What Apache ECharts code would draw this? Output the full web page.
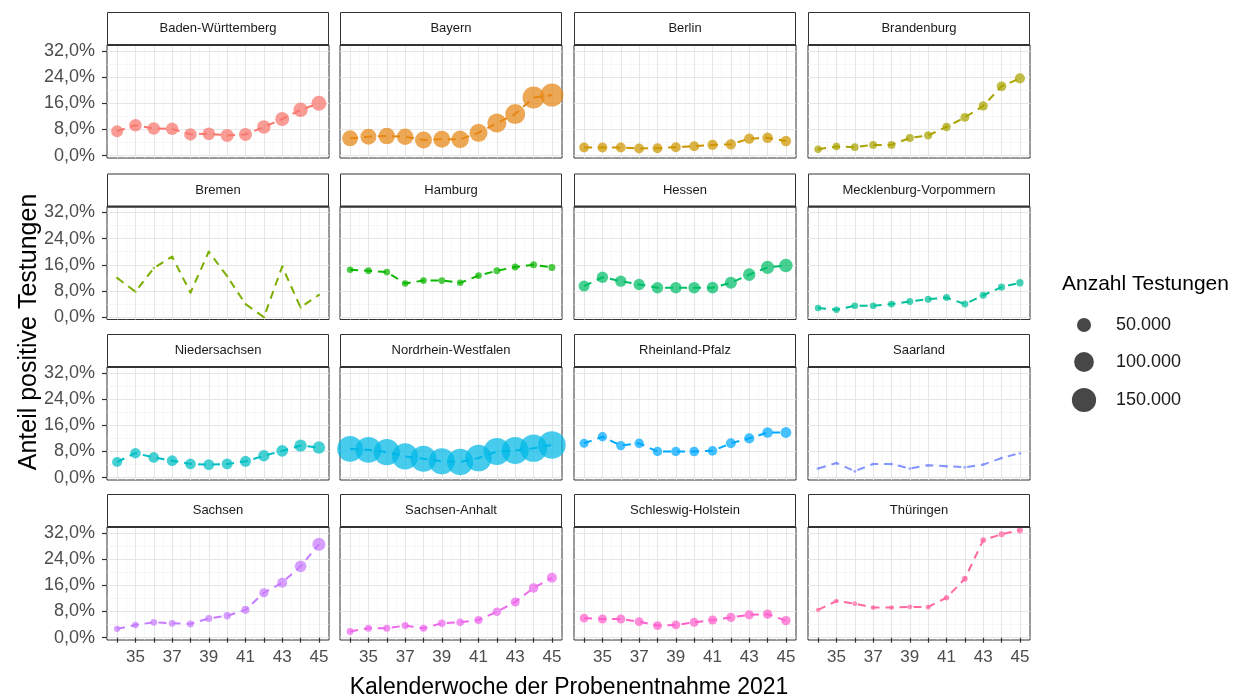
<!DOCTYPE html>
<html>
<head>
<meta charset="utf-8">
<script src="https://cdn.jsdelivr.net/npm/echarts@6/dist/echarts.min.js"></script>
<style>
html,body{margin:0;padding:0;background:#fff;}
#chart{width:1259px;height:700px;}
</style>
</head>
<body>
<div id="chart"></div>
<script>
// ---- data ----
const weeks = [34, 35, 36, 37, 38, 39, 40, 41, 42, 43, 44, 45];
const xTickLabelValues = [35, 37, 39, 41, 43, 45];
const yTickValues = [0, 8, 16, 24, 32];
const legendBreaks = [50000, 100000, 150000];

const states = ['Baden-Württemberg', 'Bayern', 'Berlin', 'Brandenburg',
  'Bremen', 'Hamburg', 'Hessen', 'Mecklenburg-Vorpommern',
  'Niedersachsen', 'Nordrhein-Westfalen', 'Rheinland-Pfalz', 'Saarland',
  'Sachsen', 'Sachsen-Anhalt', 'Schleswig-Holstein', 'Thüringen'];

const stateColors = ['#F8766D', '#E68613', '#CD9600', '#ABA300',
  '#7CAE00', '#0CB702', '#00BE67', '#00C19A',
  '#00BFC4', '#00B8E7', '#00A9FF', '#8494FF',
  '#C77CFF', '#ED68ED', '#FF61CC', '#FF68A1'];

// share of positive tests (%) per calendar week 34..45
const pctBW  = [7.5, 9.3, 8.3, 8.2, 6.5, 6.7, 6.2, 6.5, 8.8, 11.2, 14.0, 16.0];
const pctBY  = [5.3, 5.8, 6.0, 5.8, 4.8, 5.0, 5.0, 7.0, 10.0, 12.7, 17.8, 18.5];
const pctBE  = [2.5, 2.5, 2.5, 2.2, 2.3, 2.6, 2.9, 3.3, 3.5, 5.2, 5.5, 4.5];
const pctBB  = [2.0, 2.8, 2.6, 3.3, 3.3, 5.4, 6.2, 8.8, 11.7, 15.2, 21.2, 23.6];
const pctHB  = [12.0, 7.8, 15.0, 18.5, 7.5, 20.0, 12.5, 4.0, 0.0, 15.5, 3.0, 6.8];
const pctHH  = [14.5, 14.2, 13.8, 10.3, 11.2, 11.2, 10.5, 12.7, 14.2, 15.3, 16.0, 15.2];
const pctHE  = [9.5, 12.2, 11.0, 10.0, 9.0, 9.0, 9.0, 9.0, 10.5, 13.0, 15.2, 15.8];
const pctMV  = [2.8, 2.3, 3.5, 3.5, 4.0, 4.8, 5.5, 6.0, 4.0, 6.7, 9.2, 10.5];
const pctNI  = [4.8, 7.5, 6.2, 5.2, 4.2, 4.0, 4.2, 5.0, 6.7, 8.2, 9.8, 9.2];
const pctNW  = [8.8, 8.5, 7.8, 6.5, 5.8, 5.0, 4.8, 6.0, 8.0, 8.3, 9.0, 10.0];
const pctRP  = [10.5, 12.5, 9.8, 10.5, 8.0, 8.0, 8.0, 8.2, 10.5, 12.0, 13.8, 13.8];
const pctSL  = [2.8, 4.5, 2.0, 4.2, 4.2, 2.8, 3.8, 3.5, 3.2, 4.0, 6.0, 7.5];
const pctSN  = [2.7, 3.9, 4.7, 4.4, 4.2, 5.9, 6.7, 8.5, 13.7, 16.8, 21.8, 28.5];
const pctST  = [1.9, 2.9, 2.9, 3.7, 2.9, 4.4, 4.7, 5.4, 7.9, 10.9, 15.2, 18.3];
const pctSH  = [6.0, 5.7, 5.7, 4.9, 3.7, 3.9, 4.7, 5.4, 6.2, 7.0, 7.2, 5.2];
const pctTH  = [8.5, 11.2, 10.4, 9.2, 9.2, 9.4, 9.4, 12.2, 18.0, 29.8, 31.6, 32.8];

// number of tests per week
const nBW = [36700, 39800, 39800, 39800, 39800, 40500, 43100, 43100, 46500, 50000, 53600, 57400];
const nBY = [65300, 65300, 69400, 69400, 73700, 73700, 78100, 82600, 92000, 102000, 123000, 135000];
const nBE = [24500, 25000, 25000, 24800, 25200, 25500, 26000, 26500, 27000, 27500, 28000, 27500];
const nBB = [14300, 14800, 15000, 15500, 16000, 16500, 17500, 18500, 20000, 21500, 24000, 26000];
const nHB = [1500, 1500, 1500, 1500, 1500, 1500, 1500, 1500, 1500, 1500, 1500, 1500];
const nHH = [11000, 11500, 11500, 11000, 11500, 11500, 11000, 11500, 12000, 12500, 12500, 12500];
const nHE = [31000, 33000, 33000, 33000, 33500, 34000, 34500, 35000, 37000, 40000, 44000, 47000];
const nMV = [11000, 11000, 11500, 11500, 12000, 12000, 12500, 12500, 12500, 13000, 13500, 14000];
const nNI = [26000, 28000, 28500, 29000, 29000, 29500, 30000, 31000, 33000, 35000, 38000, 40000];
const nNW = [170000, 172000, 175000, 175000, 172000, 175000, 177000, 180000, 183000, 186000, 190000, 195000];
const nRP = [21000, 22000, 22000, 22500, 23000, 23000, 23500, 24000, 25000, 26500, 28500, 30000];
const nSL = [2300, 2300, 2300, 2300, 2300, 2300, 2300, 2300, 2300, 2300, 2300, 2300];
const nSN = [10000, 11000, 11500, 11500, 11500, 12500, 14000, 16500, 22000, 25500, 35000, 43000];
const nST = [12000, 12500, 13000, 13000, 13000, 14000, 15000, 16500, 18500, 20500, 23000, 25500];
const nSH = [20000, 20500, 20500, 20000, 20000, 20000, 20500, 21000, 21500, 22000, 22500, 22500];
const nTH = [5000, 5500, 6000, 6000, 6000, 6000, 6500, 7500, 8500, 9000, 9500, 10000];

const pctList = [pctBW, pctBY, pctBE, pctBB, pctHB, pctHH, pctHE, pctMV,
  pctNI, pctNW, pctRP, pctSL, pctSN, pctST, pctSH, pctTH];
const nList = [nBW, nBY, nBE, nBB, nHB, nHH, nHE, nMV,
  nNI, nNW, nRP, nSL, nSN, nST, nSH, nTH];

// ---- layout ----
const FONT = 'Liberation Sans, Arial, Helvetica, sans-serif';
const colLeft = [107, 340, 574, 808];
const panelW = 222;
const plotTop = [45, 206.5, 367, 527];
const plotH = 113;
const stripH = 33;
const xMin = 33.45, xMax = 45.55;
const yMin = -0.7, yMax = 33.8;
const sizeK = 0.0626;
const sizeOf = n => sizeK * Math.sqrt(n);

const grids = [], xAxes = [], yAxes = [], series = [], graphics = [];
const xMinor = weeks.slice(0, -1).map(w => w + 0.5);
const yMinor = [4, 12, 20, 28];

states.forEach((st, i) => {
  const r = Math.floor(i / 4), c = i % 4;
  const left = colLeft[c], top = plotTop[r];
  grids.push({left: left, top: top, width: panelW, height: plotH,
    show: true, backgroundColor: '#ffffff', borderColor: '#333333', borderWidth: 1});
  const gi = i;
  xAxes.push({type: 'value', gridIndex: gi, min: xMin, max: xMax, position: 'bottom',
    axisLine: {show: false},
    axisTick: {show: r === 3, customValues: weeks, length: 5, lineStyle: {color: '#333', width: 1.2}},
    axisLabel: {show: r === 3, customValues: xTickLabelValues, fontSize: 17, color: '#4d4d4d',
      fontFamily: FONT, margin: 9},
    splitLine: {show: true, lineStyle: {color: '#e6e6e6', width: 1}}});
  xAxes.push({type: 'value', gridIndex: gi, min: xMin, max: xMax, position: 'top',
    axisLine: {show: false},
    axisTick: {show: false, customValues: xMinor},
    axisLabel: {show: false},
    splitLine: {show: true, lineStyle: {color: '#f2f2f2', width: 0.6}}});
  yAxes.push({type: 'value', gridIndex: gi, min: yMin, max: yMax, position: 'left',
    axisLine: {show: false},
    axisTick: {show: c === 0, customValues: yTickValues, length: 5, lineStyle: {color: '#333', width: 1.2}},
    axisLabel: {show: c === 0, customValues: yTickValues, fontSize: 18, color: '#4d4d4d',
      fontFamily: FONT, margin: 12,
      formatter: v => v.toFixed(1).replace('.', ',') + '%'},
    splitLine: {show: true, lineStyle: {color: '#e6e6e6', width: 1}}});
  yAxes.push({type: 'value', gridIndex: gi, min: yMin, max: yMax, position: 'right',
    axisLine: {show: false},
    axisTick: {show: false, customValues: yMinor},
    axisLabel: {show: false},
    splitLine: {show: true, lineStyle: {color: '#f2f2f2', width: 0.6}}});

  const data = weeks.map((w, k) => [w, pctList[i][k], nList[i][k]]);
  series.push({type: 'scatter', xAxisIndex: 2 * i, yAxisIndex: 2 * i, data: data,
    symbol: 'circle', symbolSize: v => sizeOf(v[2]),
    itemStyle: {color: stateColors[i], opacity: 0.72}, z: 2, silent: true});
  series.push({type: 'line', xAxisIndex: 2 * i, yAxisIndex: 2 * i, data: data,
    symbol: 'none', lineStyle: {color: stateColors[i], width: 2, type: [8, 6]}, z: 3, silent: true});

  graphics.push({type: 'rect', shape: {x: left + 0.5, y: top - stripH + 0.5, width: panelW - 1, height: stripH},
    style: {fill: '#ffffff', stroke: '#333333', lineWidth: 1}, z: 10});
  graphics.push({type: 'rect', shape: {x: left, y: top - 1, width: panelW, height: 2},
    style: {fill: '#333333'}, z: 11});
  graphics.push({type: 'text', x: left + panelW / 2, y: top - stripH / 2,
    style: {text: st, textAlign: 'center', textVerticalAlign: 'middle',
      font: '13px ' + FONT, fill: '#1a1a1a'}, z: 12});
});

graphics.push({type: 'text', x: 569, y: 688,
  style: {text: 'Kalenderwoche der Probenentnahme 2021', textAlign: 'center', textVerticalAlign: 'middle',
    font: '23px ' + FONT, fill: '#000'}});
graphics.push({type: 'text', x: 29, y: 332, rotation: Math.PI / 2,
  style: {text: 'Anteil positive Testungen', textAlign: 'center', textVerticalAlign: 'middle',
    font: '25px ' + FONT, fill: '#000'}});

graphics.push({type: 'text', x: 1062, y: 284,
  style: {text: 'Anzahl Testungen', textAlign: 'left', textVerticalAlign: 'middle',
    font: '21px ' + FONT, fill: '#000'}});
const legY = [325, 362, 400];
legendBreaks.forEach((b, k) => {
  graphics.push({type: 'circle', shape: {cx: 1084, cy: legY[k], r: sizeOf(b) / 2},
    style: {fill: '#000', opacity: 0.72}});
  graphics.push({type: 'text', x: 1116, y: legY[k],
    style: {text: b.toLocaleString('de-DE'), textAlign: 'left', textVerticalAlign: 'middle',
      font: '18px ' + FONT, fill: '#1a1a1a'}});
});

const chart = echarts.init(document.getElementById('chart'), null, {renderer: 'canvas'});
chart.setOption({
  animation: false,
  backgroundColor: '#ffffff',
  grid: grids, xAxis: xAxes, yAxis: yAxes, series: series, graphic: graphics
});
</script>
</body>
</html>
